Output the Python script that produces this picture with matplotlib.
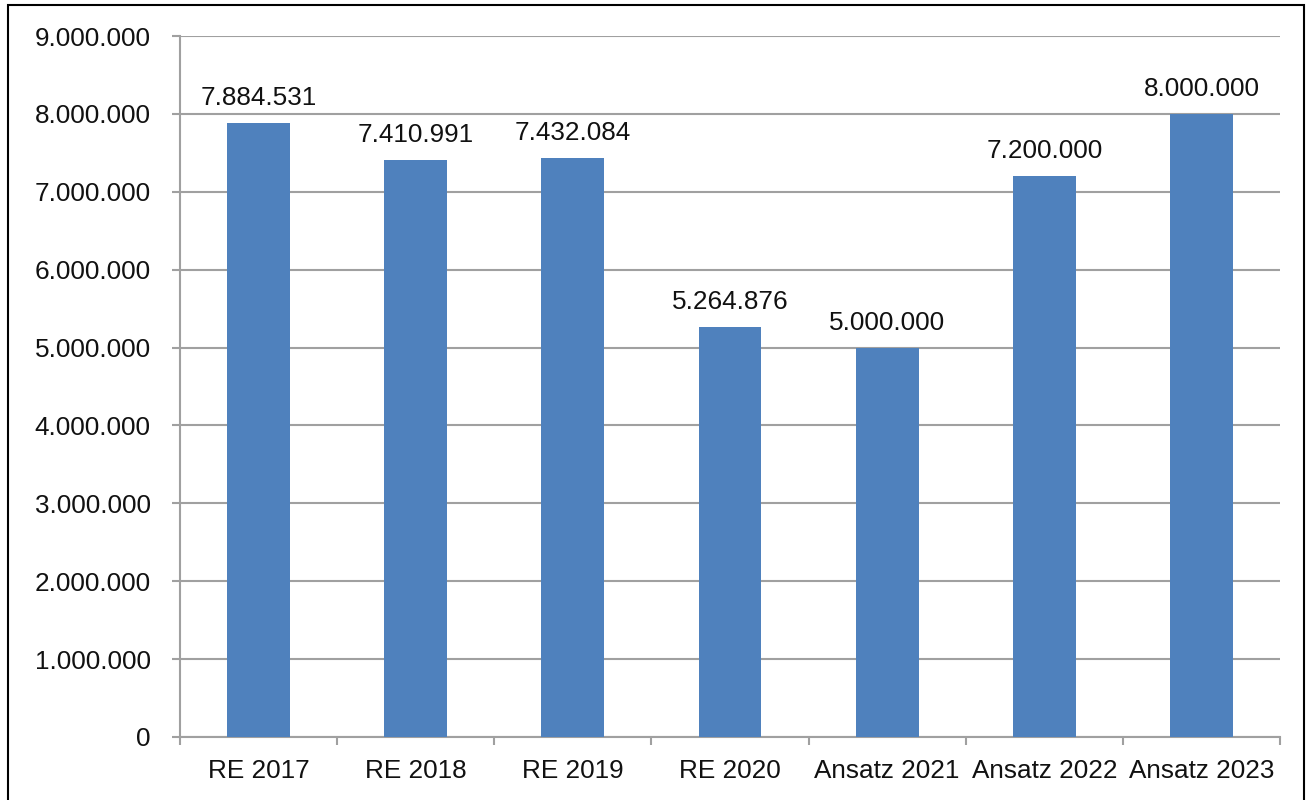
import matplotlib.pyplot as plt
import matplotlib.patches as patches
import numpy as np

categories = ['RE 2017', 'RE 2018', 'RE 2019', 'RE 2020', 'Ansatz 2021', 'Ansatz 2022', 'Ansatz 2023']
values = [7884531, 7410991, 7432084, 5264876, 5000000, 7200000, 8000000]
y_ticks = [0, 1000000, 2000000, 3000000, 4000000, 5000000, 6000000, 7000000, 8000000, 9000000]


def fmt(v):
    return '{:,}'.format(int(v)).replace(',', '.')


plt.rcParams['font.family'] = ['Liberation Sans', 'DejaVu Sans']
grey = '#A0A0A0'
fs = 18.8

fig = plt.figure(figsize=(13.1, 8), dpi=100)
ax = fig.add_axes([180 / 1310, 63 / 800, 1100 / 1310, 701 / 800])

x = np.arange(len(categories))
ax.bar(x, values, width=0.4, color='#4F81BD', zorder=3)

for xi, v in zip(x, values):
    ax.annotate(fmt(v), (xi, v), xytext=(0, 18), textcoords='offset points',
                ha='center', va='center', fontsize=fs, color='#111111')

ax.set_xlim(-0.5, len(categories) - 0.5)
ax.set_ylim(0, 9000000)
ax.set_yticks(y_ticks)
ax.set_yticklabels([fmt(t) for t in y_ticks])
ax.set_xticks(x)
ax.set_xticklabels(categories)
ax.set_xticks(np.arange(len(categories) + 1) - 0.5, minor=True)

ax.grid(axis='y', color=grey, linewidth=1.5, zorder=0)
ax.tick_params(axis='y', length=6, width=1.5, color=grey, pad=15, labelsize=fs, labelcolor='#111111')
ax.tick_params(axis='x', which='major', length=0, pad=16, labelsize=fs, labelcolor='#111111')
ax.tick_params(axis='x', which='minor', length=6, width=1.5, color=grey)

for side in ['top', 'right']:
    ax.spines[side].set_visible(False)
for side in ['left', 'bottom']:
    ax.spines[side].set_color(grey)
    ax.spines[side].set_linewidth(1.5)

frame = patches.Rectangle((8 / 1310, -0.1), 1296 / 1310, 1.1 - 5 / 800, transform=fig.transFigure,
                          fill=False, edgecolor='black', linewidth=1.5, clip_on=False)
fig.patches.append(frame)

plt.savefig('out.png', dpi=100)
